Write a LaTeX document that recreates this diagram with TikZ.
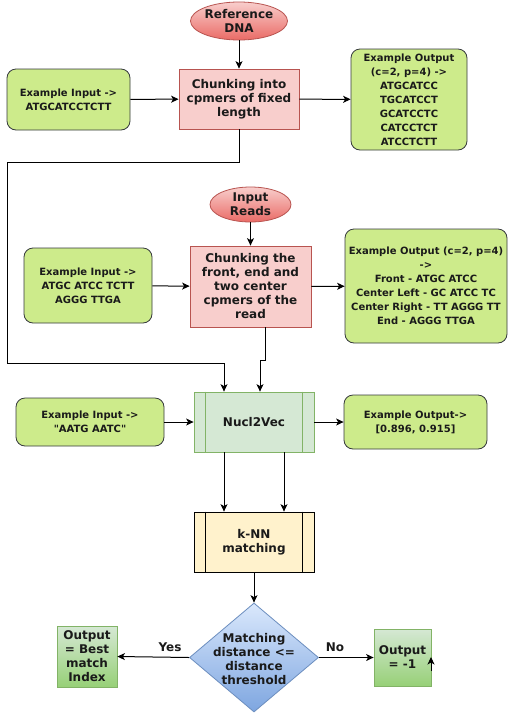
\documentclass[tikz,border=0pt]{standalone}
\usepackage{fontspec}
\setmainfont{DejaVu Sans}[Ligatures=TeXOff]
\usetikzlibrary{shapes.geometric,arrows.meta}
\definecolor{redfill}{HTML}{F8CECC}
\definecolor{redline}{HTML}{B85450}
\definecolor{redbot}{HTML}{EA6B66}
\definecolor{grnfill}{HTML}{CDEB8B}
\definecolor{grnline}{HTML}{36393D}
\definecolor{n2vfill}{HTML}{D5E8D4}
\definecolor{n2vline}{HTML}{82B366}
\definecolor{outbot}{HTML}{97D077}
\definecolor{ylwfill}{HTML}{FFF2CC}
\definecolor{bluetop}{HTML}{DAE8FC}
\definecolor{bluebot}{HTML}{7EA6E0}
\definecolor{blueline}{HTML}{6C8EBF}
\definecolor{txt}{HTML}{1A1A1A}
\tikzset{
  every node/.style={text=txt, align=center, inner sep=0pt},
  arr/.style={-{Stealth[length=7.5pt,width=7pt,inset=2pt]}, line width=1pt, black},
  ln/.style={line width=1pt, black},
  startell/.style={ellipse, draw=redline, top color=redfill, bottom color=redbot, line width=0.8pt, font=\bfseries\fontsize{12}{14}\selectfont},
  chunkbox/.style={rectangle, draw=redline, fill=redfill, line width=0.8pt, font=\bfseries\fontsize{12}{14}\selectfont},
  exbox/.style={rectangle, rounded corners=9pt, draw=grnline, fill=grnfill, line width=0.8pt, font=\bfseries\fontsize{10}{14}\selectfont},
  procbox/.style={rectangle, line width=0.8pt, font=\bfseries\fontsize{12}{14}\selectfont},
  outbox/.style={rectangle, draw=n2vline, top color=n2vfill, bottom color=outbot, line width=0.8pt, font=\bfseries\fontsize{12}{14}\selectfont},
  lbl/.style={font=\bfseries\fontsize{12}{14}\selectfont},
}
\begin{document}
\begin{tikzpicture}[x=1pt,y=-1pt]
\useasboundingbox (0,0) rectangle (508,713);
\fill[white] (0,0) rectangle (508,713);

% top section
\node[startell, minimum width=80pt, minimum height=38pt] (ref) at (239,21) {Reference\\DNA};
\node[chunkbox, minimum width=120pt, minimum height=60pt] (c1) at (239,99) {Chunking into\\cpmers of fixed\\length};
\node[exbox, minimum width=123pt, minimum height=61pt] (in1) at (68.5,99.5) {Example Input ->\\ATGCATCCTCTT};
\node[exbox, minimum width=116pt, minimum height=101pt] (out1) at (409,99.5) {Example Output\\(c=2, p=4) ->\\ATGCATCC\\TGCATCCT\\GCATCCTC\\CATCCTCT\\ATCCTCTT};

% second section
\node[startell, minimum width=81pt, minimum height=35pt] (reads) at (250.5,204.5) {Input\\Reads};
\node[chunkbox, minimum width=121pt, minimum height=81pt] (c2) at (250.5,286.5) {Chunking the\\front, end and\\two center\\cpmers of the\\read};
\node[exbox, minimum width=128pt, minimum height=75pt] (in2) at (88,285.5) {Example Input ->\\ATGC ATCC TCTT\\AGGG TTGA};
\node[exbox, minimum width=162pt, minimum height=114pt] (out2) at (426,286) {Example Output (c=2, p=4)\\->\\Front - ATGC ATCC\\Center Left - GC ATCC TC\\Center Right - TT AGGG TT\\End - AGGG TTGA};

% Nucl2Vec
\node[procbox, draw=n2vline, fill=n2vfill, minimum width=120pt, minimum height=60pt] (n2v) at (254,422) {Nucl2Vec};
\draw[n2vline, line width=0.8pt] ([xshift=12pt]n2v.north west) -- ([xshift=12pt]n2v.south west);
\draw[n2vline, line width=0.8pt] ([xshift=-12pt]n2v.north east) -- ([xshift=-12pt]n2v.south east);
\node[exbox, minimum width=148pt, minimum height=48pt] (in3) at (90,422) {Example Input ->\\"AATG AATC"};
\node[exbox, minimum width=143pt, minimum height=54pt] (out3) at (415.5,422) {Example Output->\\{[}0.896, 0.915{]}};

% kNN
\node[procbox, draw=black, fill=ylwfill, minimum width=120pt, minimum height=60pt] (knn) at (254,542) {k-NN\\matching};
\draw[black, line width=0.8pt] ([xshift=12pt]knn.north west) -- ([xshift=12pt]knn.south west);
\draw[black, line width=0.8pt] ([xshift=-12pt]knn.north east) -- ([xshift=-12pt]knn.south east);

% decision
\node[diamond, draw=blueline, top color=bluetop, bottom color=bluebot, line width=0.8pt, minimum width=129pt, minimum height=109pt] (dec) at (254,657.5) {};
\node[lbl] (dect) at (254,659) {Matching\\distance <=\\distance\\threshold};
\node[outbox, minimum width=60pt, minimum height=61pt] (best) at (87,656.5) {Output\\= Best\\match\\Index};
\node[outbox, minimum width=57pt, minimum height=57pt] (neg) at (402.5,657.5) {Output\\= -1};
\node[lbl] (yes) at (170,647) {Yes};
\node[lbl] (no) at (335,647) {No};

% connectors
\draw[arr] (ref) -- (c1);
\draw[arr] (in1) -- (c1);
\draw[arr] (c1) -- (out1);
\coordinate (j1) at (239,162);
\coordinate (j2) at (7,162);
\coordinate (j3) at (7,363);
\coordinate (j4) at (224,363);
\draw[arr] (c1.south) -- (j1) -- (j2) -- (j3) -- (j4) -- ([xshift=-30pt]n2v.north);

\draw[arr] (reads) -- (c2);
\draw[arr] (in2) -- (c2);
\draw[arr] (c2) -- (out2);
\coordinate (k1) at (265.5,360);
\coordinate (k2) at (260,360);
\draw[arr] ([xshift=15pt]c2.south) -- (k1) -- (k2) -- ([xshift=6pt]n2v.north);

\draw[arr] (in3) -- (n2v);
\draw[arr] (n2v) -- (out3);
\draw[arr] ([xshift=-30pt]n2v.south) -- ([xshift=-30pt]knn.north);
\draw[arr] ([xshift=30pt]n2v.south) -- ([xshift=30pt]knn.north);
\draw[arr] (knn.south) -- (dec.north);
\draw[arr] (dec.west) -- (best.east);
\draw[arr] (dec.east) -- (neg.west);
\coordinate (s1) at (431,671);
\coordinate (s2) at (431,657);
\draw[arr] (s1) -- (s2);
\end{tikzpicture}
\end{document}
